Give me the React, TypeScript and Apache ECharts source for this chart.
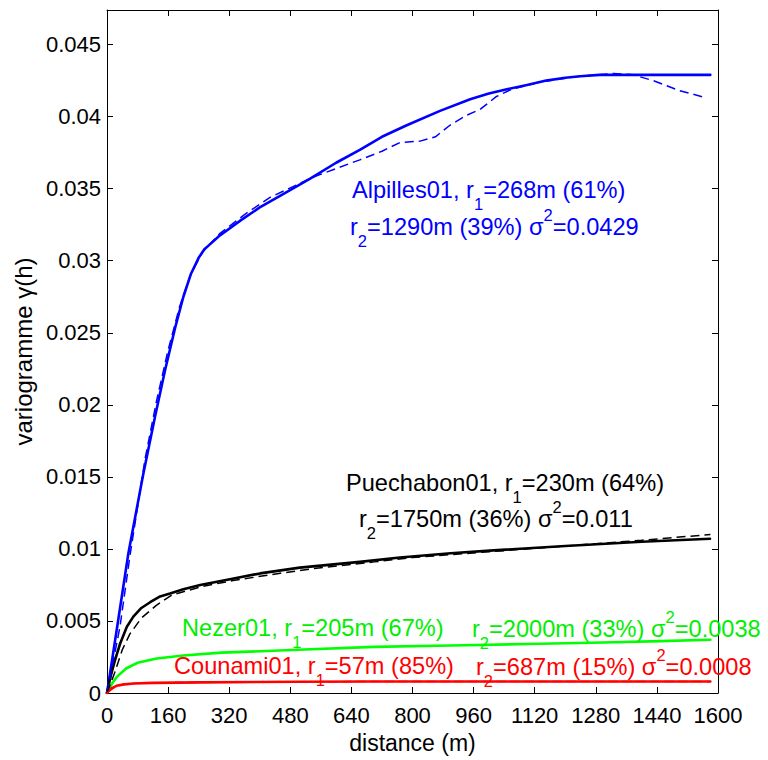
import React, { useEffect, useRef } from "react";
import * as echarts from "echarts";

// ---- data (distance m, variogram value) ----
const alpillesModel: [number, number][] = [
  [0, 0], [25, 0.0043], [56, 0.0097], [95, 0.0152], [126, 0.0192], [152, 0.0224],
  [178, 0.0253], [200, 0.0275], [220, 0.0291], [240, 0.0302], [255, 0.0308],
  [268, 0.0311], [293, 0.0317], [350, 0.0328], [400, 0.0337], [460, 0.0346],
  [532, 0.0357], [600, 0.0368], [662, 0.0377], [720, 0.0386], [785, 0.0394],
  [872, 0.0404], [951, 0.0412], [1000, 0.0416], [1047, 0.0419], [1100, 0.0422],
  [1150, 0.0425], [1200, 0.0427], [1239, 0.0428], [1290, 0.0429], [1580, 0.0429],
];
const alpillesExp: [number, number][] = [
  [0, 0], [34, 0.0046], [60, 0.0095], [100, 0.0163], [130, 0.0203], [160, 0.0238],
  [190, 0.0268], [220, 0.0291], [250, 0.0306], [296, 0.0319], [360, 0.0332],
  [427, 0.0344], [540, 0.0358], [600, 0.0364], [662, 0.037], [720, 0.0376],
  [767, 0.0382], [820, 0.0383], [860, 0.0386], [898, 0.0394], [942, 0.0401],
  [977, 0.0405], [1020, 0.0414], [1060, 0.0419], [1134, 0.0424], [1239, 0.0428],
  [1326, 0.0430], [1378, 0.0429], [1430, 0.0425], [1500, 0.0418], [1570, 0.0413],
];
const puechabonModel: [number, number][] = [
  [0, 0], [10, 0.0012], [20, 0.0022], [34, 0.0034], [52, 0.0046], [69, 0.0053],
  [90, 0.0059], [113, 0.0063], [139, 0.0067], [165, 0.0069], [200, 0.0072],
  [244, 0.0075], [322, 0.0079], [401, 0.0083], [505, 0.0087], [662, 0.0091],
  [767, 0.0094], [900, 0.0097], [1012, 0.0099], [1200, 0.0102], [1400, 0.0105],
  [1579, 0.0107],
];
const puechabonExp: [number, number][] = [
  [0, 0], [20, 0.0014], [40, 0.003], [60, 0.0041], [90, 0.0052], [130, 0.0061],
  [170, 0.0068], [250, 0.0074], [330, 0.0078], [450, 0.0083], [560, 0.0087],
  [700, 0.0091], [800, 0.0094], [1000, 0.0098], [1200, 0.0102], [1400, 0.0106],
  [1580, 0.011],
];
const nezerModel: [number, number][] = [
  [0, 0], [12, 0.0006], [25, 0.0011], [50, 0.0017], [80, 0.0021], [130, 0.0024],
  [200, 0.0026], [300, 0.0028], [500, 0.003], [700, 0.0032], [900, 0.0033],
  [1100, 0.0034], [1300, 0.0035], [1450, 0.0036], [1580, 0.0037],
];
const counamiModel: [number, number][] = [
  [0, 0], [10, 0.0003], [25, 0.0005], [45, 0.0006], [70, 0.00066], [120, 0.0007],
  [250, 0.00074], [500, 0.00078], [687, 0.0008], [1580, 0.0008],
];
const counamiExp: [number, number][] = [
  [0, 0], [20, 0.0004], [40, 0.0006], [80, 0.00068], [160, 0.00072], [320, 0.00076],
  [640, 0.00079], [960, 0.0008], [1280, 0.0008], [1580, 0.0008],
];

const xTicks = [0, 160, 320, 480, 640, 800, 960, 1120, 1280, 1440, 1600];
const yStep = 0.005;

// annotation texts: segments [style, text]
type Seg = [string, string];
const annotations: { color: string; x: number; y: number; segs: Seg[] }[] = [
  { color: "#0000ff", x: 352, y: 190, segs: [["n", "Alpilles01, r"], ["sub", "1"], ["n", "=268m (61%)"]] },
  { color: "#0000ff", x: 350, y: 227, segs: [["n", "r"], ["sub", "2"], ["n", "=1290m (39%) σ"], ["sup", "2"], ["n", "=0.0429"]] },
  { color: "#000000", x: 346, y: 483, segs: [["n", "Puechabon01, r"], ["sub", "1"], ["n", "=230m (64%)"]] },
  { color: "#000000", x: 359, y: 519, segs: [["n", "r"], ["sub", "2"], ["n", "=1750m (36%) σ"], ["sup", "2"], ["n", "=0.011"]] },
  { color: "#00ee00", x: 182, y: 628, segs: [["n", "Nezer01, r"], ["sub", "1"], ["n", "=205m (67%)"]] },
  { color: "#00ee00", x: 472, y: 629, segs: [["n", "r"], ["sub", "2"], ["n", "=2000m (33%) σ"], ["sup", "2"], ["n", "=0.0038"]] },
  { color: "#ff0000", x: 174, y: 666, segs: [["n", "Counami01, r"], ["sub", "1"], ["n", "=57m (85%)"]] },
  { color: "#ff0000", x: 476, y: 667, segs: [["n", "r"], ["sub", "2"], ["n", "=687m (15%) σ"], ["sup", "2"], ["n", "=0.0008"]] },
];

const FONT = "'Liberation Sans', Arial, Helvetica, sans-serif";

export default function App() {
  const ref = useRef<HTMLDivElement>(null);
  useEffect(() => {
    if (!ref.current) return;
    const chart = echarts.init(ref.current, null, { renderer: "svg" });
    const yFmt = (v: number) => {
      const r = Math.round(v / yStep);
      if (Math.abs(v - r * yStep) > 1e-9) return "";
      return r === 0 ? "0" : String(+(r * yStep).toFixed(3));
    };
    const xFmt = (v: number) => (xTicks.includes(Math.round(v)) ? String(Math.round(v)) : "");
    const axisCommon = {
      axisLine: { show: true, onZero: false, lineStyle: { color: "#000", width: 1 } },
      axisTick: { show: true, inside: true, length: 6, lineStyle: { color: "#000", width: 1 } },
      splitLine: { show: false },
    };
    const richFor = (color: string) => ({
      n: { fontSize: 23.6, fontFamily: FONT, fill: color, color },
      sub: { fontSize: 16.5, fontFamily: FONT, fill: color, color, padding: [28, 0, 0, 0] },
      sup: { fontSize: 16.5, fontFamily: FONT, fill: color, color, padding: [0, 0, 24, 0] },
    });
    const line = (name: string, data: [number, number][], color: string, dashed: boolean) => ({
      type: "line",
      name,
      data,
      xAxisIndex: 0,
      yAxisIndex: 0,
      showSymbol: false,
      symbol: "none",
      smooth: false,
      lineStyle: dashed
        ? { color, width: 1.5, type: [9, 5] }
        : { color, width: 2.6, join: "round", cap: "round" },
      z: dashed ? 3 : 2,
    });
    chart.setOption({
      animation: false,
      backgroundColor: "#ffffff",
      grid: { left: 107, right: 50, top: 10, bottom: 67, containLabel: false },
      xAxis: [
        {
          type: "value", min: 0, max: 1600, interval: 160, position: "bottom",
          ...axisCommon,
          name: "distance (m)", nameLocation: "middle", nameGap: 38,
          nameTextStyle: { fontSize: 23, fontFamily: FONT, color: "#000" },
          axisLabel: { fontSize: 22, fontFamily: FONT, color: "#000", margin: 11, formatter: xFmt },
        },
        {
          type: "value", min: 0, max: 1600, interval: 160, position: "top",
          ...axisCommon, axisLabel: { show: false },
        },
      ],
      yAxis: [
        {
          type: "value", min: 0, max: 0.0474, interval: yStep, position: "left",
          ...axisCommon,
          name: "variogramme γ(h)", nameLocation: "middle", nameGap: 69,
          nameTextStyle: { fontSize: 24, fontFamily: FONT, color: "#000" },
          axisLabel: { fontSize: 22, fontFamily: FONT, color: "#000", margin: 6, formatter: yFmt, showMaxLabel: false },
        },
        {
          type: "value", min: 0, max: 0.0474, interval: yStep, position: "right",
          ...axisCommon, axisLabel: { show: false },
        },
      ],
      series: [
        line("Alpilles01 exp", alpillesExp, "#0000ff", true),
        line("Alpilles01", alpillesModel, "#0000ff", false),
        line("Puechabon01 exp", puechabonExp, "#000000", true),
        line("Puechabon01", puechabonModel, "#000000", false),
        line("Nezer01", nezerModel, "#00ff00", false),
        line("Counami01", counamiModel, "#ff0000", false),
        line("Counami01 exp", counamiExp, "#ff0000", true),
      ],
      graphic: annotations.map((a) => ({
        type: "text",
        x: a.x,
        y: a.y,
        z: 10,
        style: {
          text: a.segs.map(([s, t]) => `{${s}|${t}}`).join(""),
          fontSize: 23.6,
          fontFamily: FONT,
          fill: a.color,
          align: "left",
          verticalAlign: "middle",
          rich: richFor(a.color),
        },
      })),
    });
    return () => chart.dispose();
  }, []);
  return (
    <div
      ref={ref}
      style={{ position: "fixed", left: 0, top: 0, width: 768, height: 760, background: "#fff" }}
    />
  );
}
